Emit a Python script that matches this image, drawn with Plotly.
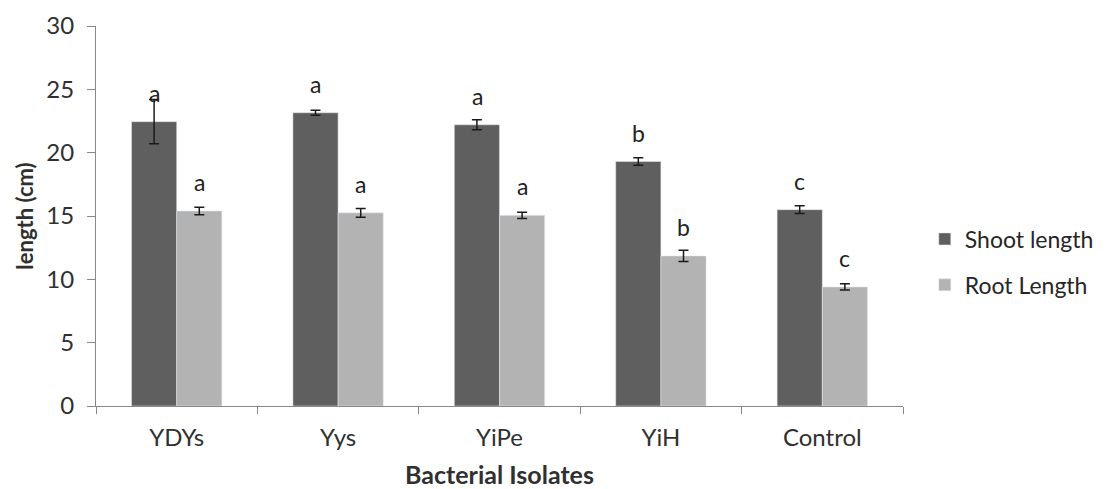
import plotly.graph_objects as go

categories = ["YDYs", "Yys", "YiPe", "YiH", "Control"]
shoot = [22.45, 23.15, 22.2, 19.3, 15.5]
shoot_err = [1.75, 0.2, 0.4, 0.3, 0.3]
root = [15.4, 15.25, 15.05, 11.85, 9.4]
root_err = [0.3, 0.35, 0.25, 0.45, 0.25]
shoot_letters = ["a", "a", "a", "b", "c"]
root_letters = ["a", "a", "a", "b", "c"]

FONT = "Lato"
fig = go.Figure()
fig.add_trace(go.Bar(
    x=categories, y=shoot, name="Shoot length", marker_color="#5f5f5f",
    error_y=dict(type="data", array=shoot_err, color="#1a1a1a", thickness=1.5, width=5),
    legendgroup="s",
))
fig.add_trace(go.Bar(
    x=categories, y=root, name="Root Length", marker_color="#b3b3b3",
    error_y=dict(type="data", array=root_err, color="#1a1a1a", thickness=1.5, width=5),
    legendgroup="r",
))

for i, c in enumerate(categories):
    fig.add_annotation(x=c, y=shoot[i], text=shoot_letters[i], showarrow=False,
                       xshift=-22.5, yshift=13, yanchor="bottom",
                       font=dict(family=FONT, size=23, color="#222"))
    fig.add_annotation(x=c, y=root[i], text=root_letters[i], showarrow=False,
                       xshift=22.5, yshift=13, yanchor="bottom",
                       font=dict(family=FONT, size=23, color="#222"))

fig.update_layout(
    width=1098, height=481,
    margin=dict(l=88, r=203, t=18, b=83, autoexpand=False),
    paper_bgcolor="white", plot_bgcolor="white",
    barmode="group", bargap=0.44, bargroupgap=0,
    font=dict(family=FONT, size=24, color="#303030"),
    showlegend=True,
    legend=dict(x=1.027, y=0.379, xanchor="left", yanchor="middle",
                tracegroupgap=13, font=dict(size=23, color="#262626")),
)
fig.update_xaxes(
    automargin=False,
    showline=True, linecolor="#888888", linewidth=1,
    ticks="outside", tickson="boundaries", ticklen=7, tickcolor="#888888",
    ticklabelstandoff=10,
    title=dict(text="<b>Bacterial Isolates</b>", font=dict(size=25), standoff=20),
)
fig.update_yaxes(
    automargin=False,
    range=[0, 30], dtick=5, showgrid=False, zeroline=False,
    showline=True, linecolor="#888888", linewidth=1,
    ticks="outside", ticklen=8, tickcolor="#888888", ticklabelstandoff=8,
    title=dict(text="<b>length (cm)</b>", font=dict(size=22), standoff=6),
)

fig.write_html("out.html")
